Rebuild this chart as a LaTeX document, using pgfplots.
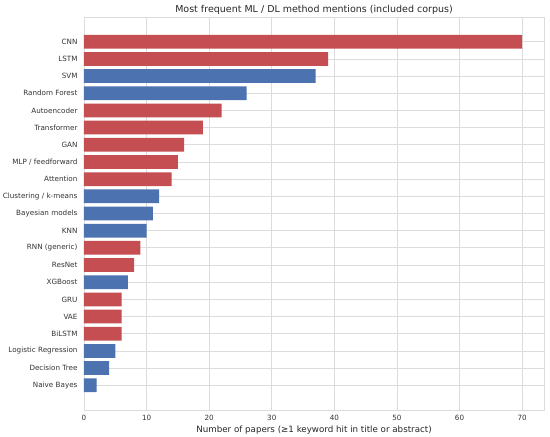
\documentclass[border=0pt]{standalone}
\usepackage{pgfplots}
\pgfplotsset{compat=1.18}
\usepackage{fontspec}
\setmainfont{DejaVu Sans}
\definecolor{sred}{HTML}{C44E52}
\definecolor{sblue}{HTML}{4C72B0}
\definecolor{gridc}{HTML}{DCDCDC}
\begin{document}
\begin{tikzpicture}
\begin{axis}[
  at={(0pt,0pt)}, anchor=south west,
  scale only axis, width=460pt, height=393pt,
  xmin=0, xmax=73.5, ymin=-1.44, ymax=21.44, y dir=reverse,
  xbar, bar width=0.8, bar shift=0pt,
  xtick={0,10,...,70},
  ytick={0,...,20},
  yticklabels={CNN,LSTM,SVM,Random Forest,Autoencoder,Transformer,GAN,MLP / feedforward,Attention,Clustering / k-means,Bayesian models,KNN,RNN (generic),ResNet,XGBoost,GRU,VAE,BiLSTM,Logistic Regression,Decision Tree,Naive Bayes},
  major tick length=0pt,
  grid=major, major grid style={gridc, line width=0.8pt},
  axis line style={gridc, line width=0.8pt},
  tick label style={font=\fontsize{7.2}{8}\selectfont, text=black!80},
  /pgf/number format/assume math mode=true,
  xticklabel style={anchor=north, yshift=-2pt},
  yticklabel style={anchor=east, xshift=-3pt},
  title={Most frequent ML / DL method mentions (included corpus)},
  title style={font=\fontsize{9.5}{10}\selectfont, at={(0.5,1)}, anchor=base, yshift=-1pt, text=black!85},
  xlabel={Number of papers (≥1 keyword hit in title or abstract)},
  xlabel style={font=\fontsize{8.7}{10}\selectfont, at={(0.5,0)}, anchor=base, yshift=-22pt, text=black!85},
]
\addplot[fill=sred, draw=none] coordinates {
(70,0) (39,1) (22,4) (19,5) (16,6) (15,7) (14,8) (9,12) (8,13) (6,15) (6,16) (6,17)
};
\addplot[fill=sblue, draw=none] coordinates {
(37,2) (26,3) (12,9) (11,10) (10,11) (7,14) (5,18) (4,19) (2,20)
};
\end{axis}
\pgfresetboundingbox
\path[use as bounding box] (-84pt,-27pt) rectangle (466pt,410pt);
\end{tikzpicture}
\end{document}
